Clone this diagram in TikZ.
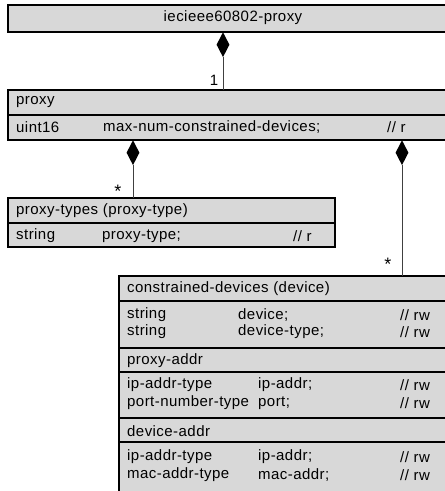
\documentclass[tikz,border=0pt]{standalone}
\usepackage{fontspec}
\setmainfont{Liberation Sans}[LetterSpace=3]
\usetikzlibrary{shapes.geometric}
\definecolor{boxfill}{RGB}{216,216,216}
\begin{document}
\begin{tikzpicture}[x=1pt,y=-1pt,
  comp/.style={draw=black, line width=1.5pt, fill=boxfill, anchor=north west, inner sep=0pt, outer sep=0pt, minimum width=#1},
  diam/.style={diamond, fill=black, inner sep=0pt, minimum width=13pt, minimum height=25pt, anchor=north},
  conn/.style={draw=black!75, line width=0.9pt},
  txt/.style={inner sep=0pt, anchor=west, font=\fontsize{15}{18}\selectfont},
  ctxt/.style={inner sep=0pt, font=\fontsize{15}{18}\selectfont},
  star/.style={inner sep=0pt, font=\fontsize{18}{20}\selectfont}]
\useasboundingbox (0,0) rectangle (445,491);
% boxes
\node[comp=450pt, minimum height=27pt] (top) at (8,5) {};
\node[comp=450pt, minimum height=25pt] (proxyh) at (8,90) {};
\node[comp=450pt, minimum height=25pt] (proxyb) at (8,115) {};
\node[comp=327pt, minimum height=25pt] (ptypeh) at (8,198) {};
\node[comp=327pt, minimum height=24pt] (ptypeb) at (8,223) {};
\node[comp=339pt, minimum height=25pt] (cdh) at (119,276) {};
\node[comp=339pt, minimum height=47pt] (cdb) at (119,301) {};
\node[comp=339pt, minimum height=24pt] (pah) at (119,348) {};
\node[comp=339pt, minimum height=46pt] (pab) at (119,372) {};
\node[comp=339pt, minimum height=24pt] (dah) at (119,418) {};
\node[comp=339pt, minimum height=60pt] (dab) at (119,442) {};
% diamonds and connectors
\node[diam] (d1) at (223,32) {};
\node[diam] (d2) at (133,140) {};
\node[diam] (d3) at (402,140) {};
\draw[conn] (d1.south) -- (d1.south |- proxyh.north);
\draw[conn] (d2.south) -- (d2.south |- ptypeh.north);
\draw[conn] (d3.south) -- (d3.south |- cdh.north);
\node[ctxt] (m1) at (214,80) {1};
\node[star] (m2) at (118,191) {*};
\node[star] (m3) at (388,264) {*};
% texts
\node[ctxt] (ttop) at (233,18) {iecieee60802-proxy};
\node[txt] (tp) at (16,102) {proxy};
\node[txt] (tp1) at (16,127) {uint16};
\node[txt] (tp2) at (103,127) {max-num-constrained-devices;};
\node[txt] (tp3) at (387,127) {// r};
\node[txt] (tt) at (16,211) {proxy-types (proxy-type)};
\node[txt] (tt1) at (16,236) {string};
\node[txt] (tt2) at (102,236) {proxy-type;};
\node[txt] (tt3) at (293,236) {// r};
\node[txt] (tc) at (127,289) {constrained-devices (device)};
\node[txt] (tc1) at (127,315) {string};
\node[txt] (tc2) at (238,315) {device;};
\node[txt] (tc3) at (400,315) {// rw};
\node[txt] (tc4) at (127,332) {string};
\node[txt] (tc5) at (238,332) {device-type;};
\node[txt] (tc6) at (400,332) {// rw};
\node[txt] (ta) at (127,361) {proxy-addr};
\node[txt] (ta1) at (127,385) {ip-addr-type};
\node[txt] (ta2) at (258,385) {ip-addr;};
\node[txt] (ta3) at (400,385) {// rw};
\node[txt] (ta4) at (127,403) {port-number-type};
\node[txt] (ta5) at (258,403) {port;};
\node[txt] (ta6) at (400,403) {// rw};
\node[txt] (td) at (127,431) {device-addr};
\node[txt] (td1) at (127,457) {ip-addr-type};
\node[txt] (td2) at (258,457) {ip-addr;};
\node[txt] (td3) at (400,457) {// rw};
\node[txt] (td4) at (127,475) {mac-addr-type};
\node[txt] (td5) at (258,475) {mac-addr;};
\node[txt] (td6) at (400,475) {// rw};
\end{tikzpicture}
\end{document}
